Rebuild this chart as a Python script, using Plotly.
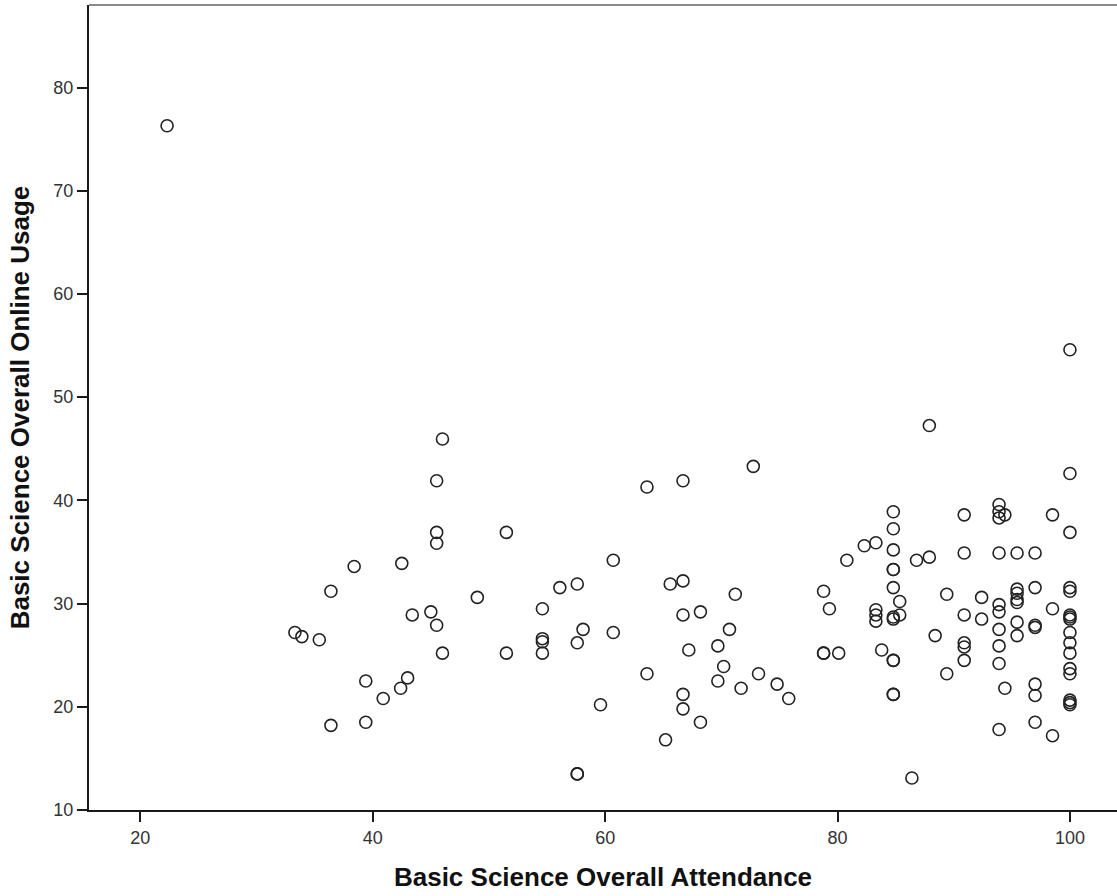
import plotly.graph_objects as go

attendance = [
    22.3,
    33.3, 33.9, 35.4, 36.4, 36.4, 38.4, 39.4, 39.4, 40.9, 42.4, 42.5, 43.0, 43.4,
    45.0, 45.5, 45.5, 45.5, 45.5, 46.0, 46.0, 49.0, 51.5, 51.5,
    54.6, 54.6, 54.6, 54.6, 56.1, 57.6, 57.6, 57.6, 57.6, 58.1, 59.6, 60.7, 60.7,
    63.6, 63.6, 65.2, 65.6, 66.7, 66.7, 66.7, 66.7, 66.7, 67.2, 68.2, 68.2,
    69.7, 69.7, 70.2, 70.7, 71.2, 71.7, 72.75, 73.2, 74.8, 75.8,
    78.8, 78.8, 78.8, 79.3, 80.1, 80.8, 82.3, 83.3, 83.3, 83.3, 83.3, 83.8,
    84.8, 84.8, 84.8, 84.8, 84.8, 84.8, 84.8, 84.8, 84.8, 84.8, 84.8, 84.8,
    85.35, 85.35, 86.4, 86.8, 87.9, 87.9, 88.4, 89.4, 89.4,
    90.9, 90.9, 90.9, 90.9, 90.9, 90.9, 92.4, 92.4,
    93.9, 93.9, 93.9, 93.9, 93.9, 93.9, 93.9, 93.9, 93.9, 93.9, 94.4, 94.4,
    95.45, 95.45, 95.45, 95.45, 95.45, 95.45, 95.45,
    97.0, 97.0, 97.0, 97.0, 97.0, 97.0, 97.0, 98.5, 98.5, 98.5,
    100.0, 100.0, 100.0, 100.0, 100.0, 100.0, 100.0, 100.0, 100.0, 100.0,
    100.0, 100.0, 100.0, 100.0, 100.0, 100.0,
]

online_usage = [
    76.3,
    27.2, 26.8, 26.5, 31.2, 18.2, 33.6, 22.5, 18.5, 20.8, 21.8, 33.9, 22.8, 28.9,
    29.2, 41.9, 36.9, 35.85, 27.9, 45.95, 25.2, 30.6, 36.9, 25.2,
    29.5, 26.6, 26.3, 25.2, 31.55, 31.9, 26.2, 13.5, 13.5, 27.5, 20.2, 34.2, 27.2,
    41.3, 23.2, 16.8, 31.9, 41.9, 32.2, 28.9, 21.2, 19.8, 25.5, 29.2, 18.5,
    25.9, 22.5, 23.9, 27.5, 30.9, 21.8, 43.3, 23.2, 22.2, 20.8,
    31.2, 25.2, 25.2, 29.5, 25.2, 34.2, 35.6, 35.9, 29.4, 28.9, 28.3, 25.5,
    38.9, 37.25, 35.2, 33.3, 33.3, 31.55, 28.5, 24.5, 24.5, 21.2, 21.2, 28.7,
    30.2, 28.9, 13.1, 34.2, 34.5, 47.25, 26.9, 30.9, 23.2,
    38.6, 34.9, 28.9, 26.2, 25.8, 24.5, 30.6, 28.5,
    39.6, 38.9, 38.3, 34.9, 29.9, 29.2, 27.5, 25.9, 24.2, 17.8, 38.6, 21.8,
    34.9, 31.4, 31.0, 30.4, 30.1, 28.2, 26.9,
    34.9, 31.55, 27.9, 27.7, 22.2, 21.1, 18.5, 38.6, 29.5, 17.2,
    54.6, 42.6, 36.9, 31.55, 31.2, 28.9, 28.5, 27.2, 26.2, 25.2,
    23.7, 23.2, 20.65, 20.2, 20.4, 28.7,
]

x_ticks = [20, 40, 60, 80, 100]
y_ticks = [10, 20, 30, 40, 50, 60, 70, 80]

FONT = "Liberation Sans, Arial, sans-serif"

fig = go.Figure()
fig.add_trace(go.Scatter(
    x=attendance, y=online_usage, mode="markers",
    marker=dict(symbol="circle-open", size=12, color="#222",
                line=dict(width=1.6, color="#222")),
    showlegend=False, hoverinfo="x+y",
))

fig.add_shape(type="line", xref="paper", yref="paper", x0=0, x1=1, y0=1, y1=1,
              line=dict(color="#8a8a8a", width=2), layer="above")

fig.update_layout(
    width=1117, height=896,
    margin=dict(l=89, r=0, t=5, b=86),
    paper_bgcolor="white", plot_bgcolor="white",
    font=dict(family=FONT, size=18, color="#333"),
    xaxis=dict(
        range=[15.58, 104.05], tickvals=x_ticks, ticktext=[str(t) for t in x_ticks],
        showgrid=False, zeroline=False, showline=True, linecolor="#1a1a1a", linewidth=2,
        ticks="outside", ticklen=10, tickwidth=1.5, tickcolor="#1a1a1a",
        tickfont=dict(family=FONT, size=18, color="#333"),
        title=dict(text="<b>Basic Science Overall Attendance</b>",
                   font=dict(family=FONT, size=26, color="#111"), standoff=21),
    ),
    yaxis=dict(
        range=[10, 88], tickvals=y_ticks, ticktext=[str(t) for t in y_ticks],
        showgrid=False, zeroline=False, showline=True, linecolor="#1a1a1a", linewidth=2,
        ticks="outside", ticklen=10, tickwidth=1.5, tickcolor="#1a1a1a",
        tickfont=dict(family=FONT, size=18, color="#333"),
        title=dict(text="<b>Basic Science Overall Online Usage</b>",
                   font=dict(family=FONT, size=26, color="#111"), standoff=16),
    ),
)

fig.write_html("out.html")
